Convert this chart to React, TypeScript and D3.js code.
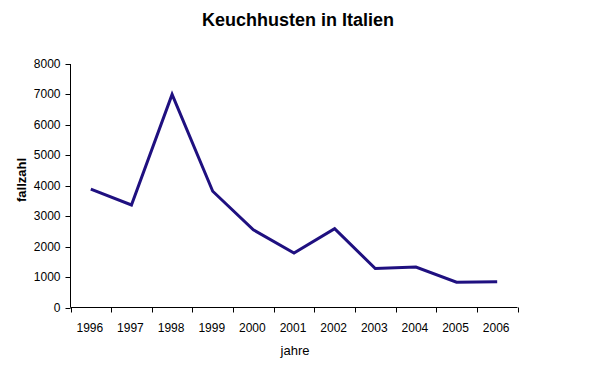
import React from "react";
import * as d3 from "d3";

const years = ["1996", "1997", "1998", "1999", "2000", "2001", "2002", "2003", "2004", "2005", "2006"];
const cases = [3890, 3370, 7000, 3820, 2550, 1790, 2590, 1280, 1330, 830, 850];
const yTicks = [0, 1000, 2000, 3000, 4000, 5000, 6000, 7000, 8000];

const W = 603;
const H = 383;
const left = 70.5;
const right = 517.5;
const top = 64;
const bottom = 307.5;
const font = "'Liberation Sans', Arial, sans-serif";

export default function App() {
  const x = d3.scaleBand<string>().domain(years).range([left, right]);
  const y = d3.scaleLinear().domain([0, 8000]).range([bottom, top]);
  const line = d3
    .line<number>()
    .x((_, i) => (x(years[i]) as number) + x.bandwidth() / 2)
    .y((d) => y(d));
  const edges = years.map((yr) => x(yr) as number).concat([right]);

  return (
    <svg width={W} height={H} style={{ position: "absolute", left: 0, top: 0, background: "#fff" }}>
      <rect width={W} height={H} fill="#fff" />
      <text x={298} y={26} textAnchor="middle" fontFamily={font} fontWeight="bold" fontSize={18} fill="#000">
        Keuchhusten in Italien
      </text>
      {/* y axis */}
      <line x1={left} x2={left} y1={top} y2={bottom} stroke="#000" strokeWidth={1} />
      {yTicks.map((t) => (
        <g key={t}>
          <line x1={left - 5} x2={left} y1={Math.round(y(t)) + 0.5} y2={Math.round(y(t)) + 0.5} stroke="#000" />
          <text x={left - 10} y={y(t) + 4} textAnchor="end" fontFamily={font} fontSize={12} fill="#000">
            {t}
          </text>
        </g>
      ))}
      {/* x axis */}
      <line x1={left} x2={right} y1={bottom} y2={bottom} stroke="#000" strokeWidth={1} />
      {edges.map((e, i) => (
        <line key={i} x1={Math.round(e) + 0.5} x2={Math.round(e) + 0.5} y1={bottom} y2={bottom + 5} stroke="#000" />
      ))}
      {years.map((yr) => (
        <text
          key={yr}
          x={(x(yr) as number) + x.bandwidth() / 2 - 1}
          y={332}
          textAnchor="middle"
          fontFamily={font}
          fontSize={12}
          fill="#000"
        >
          {yr}
        </text>
      ))}
      <text x={295} y={355} textAnchor="middle" fontFamily={font} fontSize={13} fill="#000">
        jahre
      </text>
      <text
        transform="translate(26,180) rotate(-90)"
        textAnchor="middle"
        fontFamily={font}
        fontWeight="bold"
        fontSize={13}
        fill="#000"
      >
        fallzahl
      </text>
      <path d={line(cases) || ""} fill="none" stroke="#1f1080" strokeWidth={3} strokeLinejoin="miter" />
    </svg>
  );
}
